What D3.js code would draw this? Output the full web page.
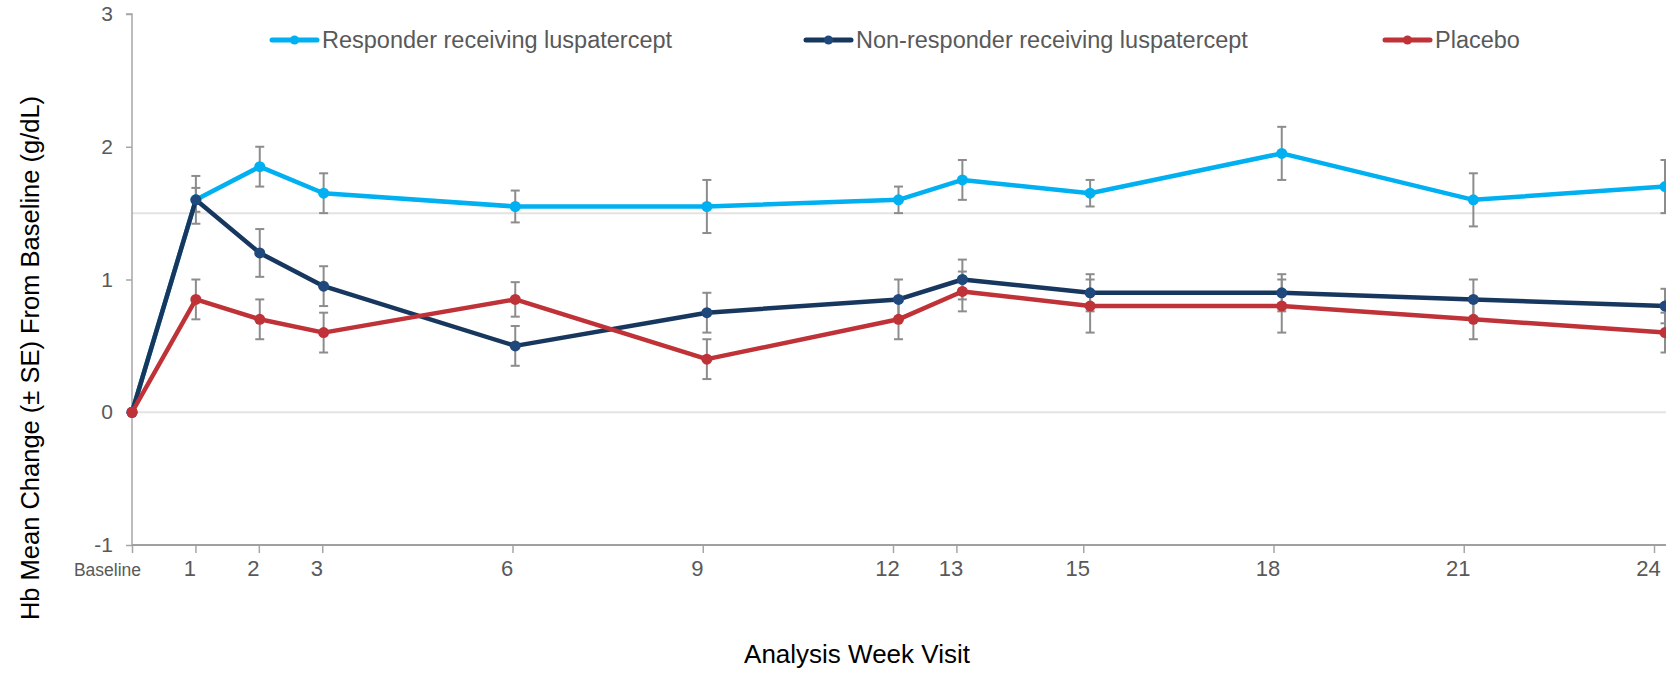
<!DOCTYPE html>
<html>
<head>
<meta charset="utf-8">
<script src="https://cdn.jsdelivr.net/npm/d3@7/dist/d3.min.js"></script>
<style>
	html, body { margin: 0; padding: 0; background: #fff; }
	svg { display: block; font-family: 'Liberation Sans', Arial, sans-serif; }
	.tick-label { fill: #595959; }
</style>
</head>
<body>
<div id="chart"></div>
<script>

var weeks = [0, 1, 2, 3, 6, 9, 12, 13, 15, 18, 21, 24]

var responder   = [0, 1.60, 1.85, 1.65, 1.55, 1.55, 1.60, 1.75, 1.65, 1.95, 1.60, 1.70]
var responderSE = [0, 0.09, 0.15, 0.15, 0.12, 0.20, 0.10, 0.15, 0.10, 0.20, 0.20, 0.20]

var nonResponder   = [0, 1.60, 1.20, 0.95, 0.50, 0.75, 0.85, 1.00, 0.90, 0.90, 0.85, 0.80]
var nonResponderSE = [0, 0.18, 0.18, 0.15, 0.15, 0.15, 0.15, 0.15, 0.14, 0.14, 0.15, 0.13]

var placebo   = [0, 0.85, 0.70, 0.60, 0.85, 0.40, 0.70, 0.91, 0.80, 0.80, 0.70, 0.60]
var placeboSE = [0, 0.15, 0.15, 0.15, 0.13, 0.15, 0.15, 0.15, 0.20, 0.20, 0.15, 0.15]

var seriesNames = ['Responder receiving luspatercept', 'Non-responder receiving luspatercept', 'Placebo']
var yTicks = [-1, 0, 1, 2, 3]
var refLines = [0, 1.5]

var yTitle = 'Hb Mean Change (\u00b1 SE) From Baseline (g/dL)'
var xTitle = 'Analysis Week Visit'

var W = 1666
var H = 673

var series = [
	{ name: seriesNames[0], values: responder, se: responderSE, line: '#00b0f0', dot: '#00b0f0' },
	{ name: seriesNames[1], values: nonResponder, se: nonResponderSE, line: '#17375e', dot: '#1f497d' },
	{ name: seriesNames[2], values: placebo, se: placeboSE, line: '#bf3237', dot: '#bf3237' }
]

var svg = d3.select('#chart')
	.append('svg')
	.attr('width', W)
	.attr('height', H)

svg.append('rect')
	.attr('width', W)
	.attr('height', H)
	.attr('fill', '#fff')

var y = d3.scaleLinear()
	.domain([-1, 3])
	.range([545, 14])

// points sit on a slightly wider scale than the drawn tick marks
var x = d3.scaleLinear()
	.domain([0, 24])
	.range([132, 1665])

var xTick = d3.scaleLinear()
	.domain([0, 24])
	.range([132, 1654])

// light reference lines
svg.append('g')
	.selectAll('line')
	.data(refLines)
	.enter().append('line')
	.attr('x1', x(0))
	.attr('x2', W)
	.attr('y1', function(d) { return y(d) })
	.attr('y2', function(d) { return y(d) })
	.attr('stroke', '#e3e3e3')
	.attr('stroke-width', 2)

// y axis
var yAxis = svg.append('g')
	.attr('transform', 'translate(' + x(0) + ',0)')
	.call(d3.axisLeft(y).tickValues(yTicks).tickSize(6).tickPadding(13).tickFormat(String))

yAxis.select('.domain')
	.attr('stroke', '#a6a6a6')
	.attr('stroke-width', 1.5)
	.attr('d', 'M-6,' + y(3) + 'H0V' + y(-1))

yAxis.selectAll('.tick line')
	.attr('stroke', '#a6a6a6')
	.attr('stroke-width', 1.5)

yAxis.selectAll('.tick text')
	.attr('class', 'tick-label')
	.attr('font-size', 21)
	.attr('font-family', null)

// x axis
var xAxis = svg.append('g')
	.attr('transform', 'translate(0,' + y(-1) + ')')
	.call(d3.axisBottom(xTick).tickValues(weeks).tickSize(8).tickFormat(function(d) {
		return d === 0 ? 'Baseline' : d
	}))

xAxis.select('.domain')
	.attr('stroke', '#a0a0a0')
	.attr('stroke-width', 2)
	.attr('d', 'M' + x(0) + ',0H' + W)

xAxis.selectAll('.tick line')
	.attr('stroke', '#a6a6a6')
	.attr('stroke-width', 1.5)
	.attr('y1', 1)

xAxis.selectAll('.tick text')
	.attr('class', 'tick-label')
	.attr('font-family', null)
	.attr('font-size', function(d) { return d === 0 ? 17.5 : 22 })
	.attr('y', 31)
	.attr('dy', 0)
	.attr('x', function(d) { return d === 0 ? -25 : -6 })

// error bars
var errGroup = svg.append('g')

series.forEach(function(s) {

	var pts = weeks.map(function(w, i) {
		return { w: w, v: s.values[i], se: s.se[i] }
	}).filter(function(d) { return d.se > 0 })

	var bars = errGroup.selectAll(null)
		.data(pts)
		.enter().append('g')
		.attr('stroke', '#8c8c8c')
		.attr('stroke-width', 2)

	bars.append('line')
		.attr('x1', function(d) { return x(d.w) })
		.attr('x2', function(d) { return x(d.w) })
		.attr('y1', function(d) { return y(d.v + d.se) })
		.attr('y2', function(d) { return y(d.v - d.se) })

	bars.append('line')
		.attr('x1', function(d) { return x(d.w) - 4.5 })
		.attr('x2', function(d) { return x(d.w) + 4.5 })
		.attr('y1', function(d) { return y(d.v + d.se) })
		.attr('y2', function(d) { return y(d.v + d.se) })

	bars.append('line')
		.attr('x1', function(d) { return x(d.w) - 4.5 })
		.attr('x2', function(d) { return x(d.w) + 4.5 })
		.attr('y1', function(d) { return y(d.v - d.se) })
		.attr('y2', function(d) { return y(d.v - d.se) })

})

// lines + markers
var line = d3.line()
	.x(function(d, i) { return x(weeks[i]) })
	.y(function(d) { return y(d) })

series.forEach(function(s) {

	var g = svg.append('g')

	g.append('path')
		.datum(s.values)
		.attr('d', line)
		.attr('fill', 'none')
		.attr('stroke', s.line)
		.attr('stroke-width', 4.5)
		.attr('stroke-linejoin', 'round')

	g.selectAll('circle')
		.data(s.values)
		.enter().append('circle')
		.attr('cx', function(d, i) { return x(weeks[i]) })
		.attr('cy', function(d) { return y(d) })
		.attr('r', 5.5)
		.attr('fill', s.dot)

})

// legend
var legendX = [272, 806, 1385]

var legend = svg.append('g')
	.selectAll('g')
	.data(series)
	.enter().append('g')
	.attr('transform', function(d, i) { return 'translate(' + legendX[i] + ',40)' })

legend.append('line')
	.attr('x1', 0)
	.attr('x2', 45)
	.attr('stroke', function(d) { return d.line })
	.attr('stroke-width', 5)
	.attr('stroke-linecap', 'round')

legend.append('circle')
	.attr('cx', 22.5)
	.attr('r', 4.5)
	.attr('fill', function(d) { return d.dot })

legend.append('text')
	.attr('class', 'tick-label')
	.attr('x', 50)
	.attr('dy', '0.35em')
	.attr('font-size', 23.5)
	.text(function(d) { return d.name })

// axis titles
svg.append('text')
	.attr('transform', 'translate(39,358) rotate(-90)')
	.attr('text-anchor', 'middle')
	.attr('font-size', 25.5)
	.attr('fill', '#000')
	.text(yTitle)

svg.append('text')
	.attr('x', 857)
	.attr('y', 663)
	.attr('text-anchor', 'middle')
	.attr('font-size', 26)
	.attr('fill', '#000')
	.text(xTitle)

</script>
</body>
</html>
